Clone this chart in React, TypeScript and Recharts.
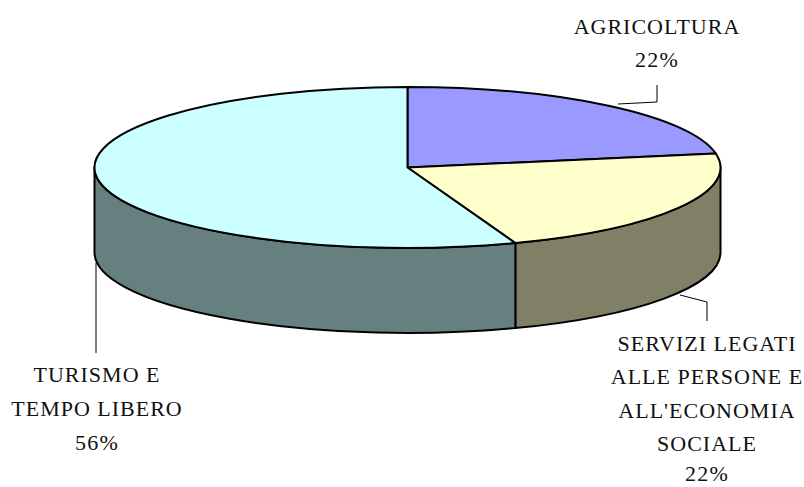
import React from 'react';
import { PieChart, Pie, Cell } from 'recharts';

const names = ['AGRICOLTURA', 'SERVIZI', 'TURISMO'];
const shares = [22.2, 22.2, 55.6];
const topColors = ['#9999FF', '#FFFFCC', '#CCFFFF'];
const wallColors = ['#666699', '#808066', '#668080'];
const labelLines = [
  ['AGRICOLTURA', '22%'],
  ['SERVIZI LEGATI', 'ALLE PERSONE E', "ALL'ECONOMIA", 'SOCIALE', '22%'],
  ['TURISMO E', 'TEMPO LIBERO', '56%'],
];

const data = names.map((name, i) => ({ name, value: shares[i], index: i }));

const CX = 407.5;
const CY = 167.5;
const RX = 313;
const RY = 80.5;
const DEPTH = 85;

// where each label block and its leader go
const labelSpots = [
  { x: 657, ys: [34, 67], leader: '618,104 657,102 657,85' },
  { x: 707, ys: [351, 384, 418, 451, 481], leader: '680,295 707,302 707,321' },
  { x: 97, ys: [382, 416, 450], leader: '96,263 96,353' },
];

const pt = (deg: number, dy = 0) => {
  const a = (deg * Math.PI) / 180;
  return `${CX + RX * Math.cos(a)} ${CY - RY * Math.sin(a) + dy}`;
};

const Slice3D = (props: any) => {
  const { startAngle, endAngle, payload } = props;
  const idx = payload?.index ?? props.index ?? 0;
  const wallFrom = Math.min(startAngle, 0);
  const wallTo = Math.max(endAngle, -180);
  const large = startAngle - endAngle > 180 ? 1 : 0;
  return (
    <g>
      {wallFrom > wallTo && (
        <path
          d={`M ${pt(wallFrom)} A ${RX} ${RY} 0 0 1 ${pt(wallTo)} L ${pt(wallTo, DEPTH)} A ${RX} ${RY} 0 0 0 ${pt(wallFrom, DEPTH)} Z`}
          fill={wallColors[idx]}
          stroke="#000"
          strokeWidth={2}
          strokeLinejoin="round"
        />
      )}
      <path
        d={`M ${CX} ${CY} L ${pt(startAngle)} A ${RX} ${RY} 0 ${large} 1 ${pt(endAngle)} Z`}
        fill={topColors[idx]}
        stroke="#000"
        strokeWidth={2}
        strokeLinejoin="round"
      />
    </g>
  );
};

const renderLabel = (props: any) => {
  const spot = labelSpots[props.index];
  return (
    <g key={props.index}>
      <polyline points={spot.leader} fill="none" stroke="#000" strokeWidth={1} />
      {labelLines[props.index].map((line, i) => (
        <text
          key={line}
          x={spot.x}
          y={spot.ys[i]}
          textAnchor="middle"
          fill="#111"
          fontSize={22}
          letterSpacing={line.endsWith('%') ? 1.2 : 1}
          fontFamily="'Liberation Serif', serif"
        >
          {line}
        </text>
      ))}
    </g>
  );
};

export default function App() {
  return (
    <div style={{ position: 'absolute', left: 0, top: 0, width: 804, height: 487, background: '#fff' }}>
      <PieChart width={804} height={487} margin={{ top: 0, right: 0, bottom: 0, left: 0 }}>
        <Pie
          data={data}
          dataKey="value"
          nameKey="name"
          cx={CX}
          cy={CY}
          outerRadius={RX}
          startAngle={90}
          endAngle={-270}
          stroke="none"
          shape={Slice3D}
          label={renderLabel}
          labelLine={false}
          isAnimationActive={false}
        >
          {data.map((d) => (
            <Cell key={d.name} fill={topColors[d.index]} />
          ))}
        </Pie>
      </PieChart>
    </div>
  );
}
